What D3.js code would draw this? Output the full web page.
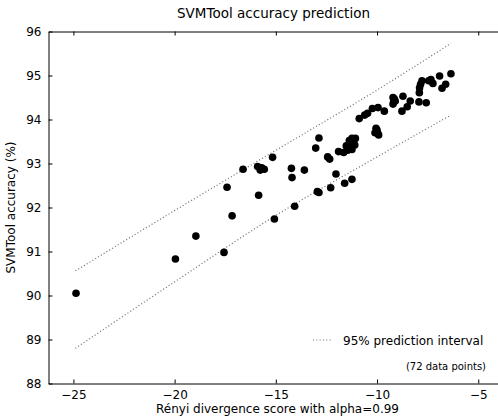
<!DOCTYPE html>
<html>
<head>
<meta charset="utf-8">
<script src="https://cdn.jsdelivr.net/npm/d3@7"></script>
<style>
  body { margin: 0; background: #fff; }
  text { font-family: "DejaVu Sans", sans-serif; }
</style>
</head>
<body>
<div id="chart"></div>
<script>
// Data
const scoreX = [
  -24.87, -19.96, -18.95, -17.56, -17.16, -17.41, -16.62, -15.85, -15.90, -15.77,
  -15.57, -15.16, -15.07, -14.23, -14.20, -14.07, -13.59, -13.03, -12.87, -12.44,
  -12.34, -12.03, -12.87, -12.29, -11.60, -11.24, -11.90, -11.65, -11.52, -11.32,
  -11.24, -11.37, -11.24, -11.07, -11.16, -10.00, -9.97, -9.92, -10.88, -10.61,
  -10.47, -10.23, -9.95, -9.64, -9.21, -9.18, -9.21, -9.10, -8.72, -8.36,
  -8.51, -8.77, -7.91, -7.90, -7.78, -7.93, -7.57, -7.34, -7.24, -7.45,
  -6.91, -6.79, -6.61, -6.35, -10.10, -12.95, -15.70, -11.45, -11.10, -9.15,
  -7.85, -10.05
];
const accuracy = [
  90.05, 90.83, 91.35, 90.98, 91.81, 92.46, 92.87, 92.28, 92.93, 92.85,
  92.87, 93.14, 91.74, 92.89, 92.68, 92.03, 92.85, 93.35, 93.58, 93.15,
  93.10, 92.76, 92.34, 92.45, 92.55, 92.64, 93.27, 93.25, 93.40, 93.38,
  93.32, 93.52, 93.57, 93.57, 93.47, 93.76, 93.69, 93.65, 94.02, 94.10,
  94.14, 94.25, 94.27, 94.19, 94.50, 94.40, 94.35, 94.42, 94.53, 94.42,
  94.29, 94.19, 94.61, 94.72, 94.88, 94.40, 94.38, 94.91, 94.82, 94.88,
  94.99, 94.71, 94.80, 95.04, 93.70, 92.36, 92.90, 93.30, 93.42, 94.47,
  94.80, 93.80
];

const bandX = [-24.9, -20, -15, -10, -6.35];
const bandUpper = [90.56, 91.93, 93.30, 94.67, 95.73];
const bandLower = [88.80, 90.31, 91.82, 93.15, 94.10];

const xTicks = [-25, -20, -15, -10, -5];
const yTicks = [88, 89, 90, 91, 92, 93, 94, 95, 96];

const width = 498, height = 417;
const margin = { top: 31.5, right: -0.5, bottom: 33.5, left: 48.5 };

const svg = d3.select('#chart')
  .append('svg')
  .attr('width', width)
  .attr('height', height);

const x = d3.scaleLinear()
  .domain([-26.23, -4.0])
  .range([margin.left, width - margin.right]);

const y = d3.scaleLinear()
  .domain([88, 96])
  .range([height - margin.bottom, margin.top]);

// Prediction interval (dotted)
const band = d3.line()
  .x(d => x(d[0]))
  .y(d => y(d[1]))
  .curve(d3.curveMonotoneX);

[bandUpper, bandLower].forEach(vals => {
  svg.append('path')
    .datum(bandX.map((v, i) => [v, vals[i]]))
    .attr('d', band)
    .attr('fill', 'none')
    .attr('stroke', '#777')
    .attr('stroke-width', 1.2)
    .attr('stroke-dasharray', '1.1,2.2');
});

// Points
svg.selectAll('.pt')
  .data(scoreX.map((v, i) => [v, accuracy[i]]))
  .enter().append('circle')
  .attr('class', 'pt')
  .attr('cx', d => x(d[0]))
  .attr('cy', d => y(d[1]))
  .attr('r', 3.8)
  .attr('fill', '#000');

// Axes (matplotlib style, inward ticks)
const xAxisB = d3.axisBottom(x).tickValues(xTicks).tickSizeInner(-4).tickSizeOuter(0)
  .tickPadding(7).tickFormat(d => d3.format('')(d).replace('-', '\u2212'));
const xAxisT = d3.axisTop(x).tickValues(xTicks).tickSizeInner(-4).tickSizeOuter(0).tickFormat('');
const yAxisL = d3.axisLeft(y).tickValues(yTicks).tickSizeInner(-4).tickSizeOuter(0).tickPadding(7);

const gb = svg.append('g')
  .attr('transform', `translate(0,${height - margin.bottom})`)
  .call(xAxisB);
const gt = svg.append('g')
  .attr('transform', `translate(0,${margin.top})`)
  .call(xAxisT);
const gl = svg.append('g')
  .attr('transform', `translate(${margin.left},0)`)
  .call(yAxisL);

[gb, gt, gl].forEach(g => {
  g.selectAll('path').attr('stroke', '#000').attr('stroke-width', 1);
  g.selectAll('line').attr('stroke', '#000').attr('stroke-width', 1);
  g.selectAll('text').attr('fill', '#000').style('font-size', '12px')
    .style('font-family', '"DejaVu Sans", sans-serif');
});

// Title and labels
const cx = (margin.left + width - margin.right) / 2;
svg.append('text')
  .attr('x', cx).attr('y', 18)
  .attr('text-anchor', 'middle')
  .style('font-size', '13.5px')
  .text('SVMTool accuracy prediction');

svg.append('text')
  .attr('x', cx + 4).attr('y', 413)
  .attr('text-anchor', 'middle')
  .style('font-size', '12px')
  .text('Rényi divergence score with alpha=0.99');

svg.append('text')
  .attr('transform', `translate(15,${(margin.top + height - margin.bottom) / 2}) rotate(-90)`)
  .attr('text-anchor', 'middle')
  .style('font-size', '12px')
  .text('SVMTool accuracy (%)');

// Legend
svg.append('line')
  .attr('x1', 313).attr('x2', 331)
  .attr('y1', 340).attr('y2', 340)
  .attr('stroke', '#777')
  .attr('stroke-width', 1.2)
  .attr('stroke-dasharray', '1.1,2.2');
svg.append('text')
  .attr('x', 343).attr('y', 344.5)
  .style('font-size', '12px')
  .text('95% prediction interval');

svg.append('text')
  .attr('x', 486).attr('y', 370)
  .attr('text-anchor', 'end')
  .style('font-size', '10px')
  .text('(72 data points)');
</script>
</body>
</html>
